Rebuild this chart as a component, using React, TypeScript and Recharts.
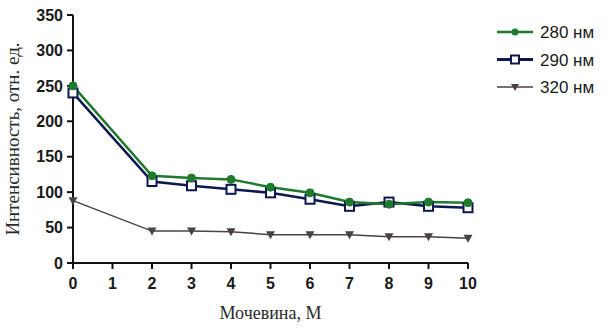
import React from "react";
import { LineChart, Line, XAxis, YAxis } from "recharts";

// Urea concentration, M (no measurement at 1 M)
const urea = [0, 2, 3, 4, 5, 6, 7, 8, 9, 10];
const nm280 = [250, 123, 120, 118, 107, 99, 86, 83, 86, 85];
const nm290 = [240, 115, 109, 104, 99, 90, 80, 86, 80, 78];
const nm320 = [88, 45, 45, 44, 40, 40, 40, 37, 37, 35];
const xTicks = [0, 1, 2, 3, 4, 5, 6, 7, 8, 9, 10];
const yTicks = [0, 50, 100, 150, 200, 250, 300, 350];

const data = urea.map((u, i) => ({
  urea: u,
  a: nm280[i],
  b: nm290[i],
  c: nm320[i],
}));

const tickStyle = {
  fontFamily: "Liberation Sans, Arial, sans-serif",
  fontWeight: 700,
  fontSize: 16,
  fill: "#1a1a1a",
};

const GREEN = "#1f7a2e";
const NAVY = "#0d1850";
const GREY = "#4a4242";

const Circle = (p: any) => (
  <circle key={p.key} cx={p.cx} cy={p.cy} r={4} fill={GREEN} stroke={GREEN} />
);
const Square = (p: any) => (
  <rect key={p.key} x={p.cx - 4.5} y={p.cy - 4.5} width={9} height={9} fill="#fff" stroke={NAVY} strokeWidth={2} />
);
const Tri = (p: any) => (
  <path key={p.key} d={`M${p.cx - 4.5},${p.cy - 3.5} L${p.cx + 4.5},${p.cy - 3.5} L${p.cx},${p.cy + 4.5} Z`} fill={GREY} />
);

const legendItems = [
  { name: "280 нм", color: GREEN, width: 2.5, marker: "circle" },
  { name: "290 нм", color: NAVY, width: 3, marker: "square" },
  { name: "320 нм", color: GREY, width: 1.5, marker: "tri" },
];

const LegendBox = () => (
  <svg width={120} height={90}>
    {legendItems.map((it, i) => {
      const y = 18 + i * 27.5;
      return (
        <g key={it.name}>
          <line x1={17} x2={53} y1={y} y2={y} stroke={it.color} strokeWidth={it.width} />
          {it.marker === "circle" && <circle cx={35} cy={y} r={3.5} fill={it.color} />}
          {it.marker === "square" && (
            <rect x={31} y={y - 4} width={8} height={8} fill="#fff" stroke={it.color} strokeWidth={2} />
          )}
          {it.marker === "tri" && (
            <path d={`M${31},${y - 3} L${39},${y - 3} L${35},${y + 4} Z`} fill={it.color} />
          )}
          <text
            x={60}
            y={y + 6}
            fontFamily="Liberation Sans, Arial, sans-serif"
            fontSize={17}
            fill="#1a1a1a"
          >
            {it.name}
          </text>
        </g>
      );
    })}
  </svg>
);

export default function App() {
  return (
    <div style={{ position: "absolute", left: 0, top: 0, width: 613, height: 329, background: "#fff" }}>
      <LineChart
        width={613}
        height={329}
        data={data}
        margin={{ top: 15, right: 145, bottom: 0, left: 0 }}
      >
        <XAxis
          dataKey="urea"
          type="number"
          domain={[0, 10]}
          ticks={xTicks}
          interval={0}
          tick={tickStyle}
          tickSize={6}
          tickMargin={9}
          height={66}
          axisLine={{ stroke: "#111", strokeWidth: 2 }}
          tickLine={{ stroke: "#111", strokeWidth: 2 }}
          label={{
            value: "Мочевина, М",
            position: "insideBottom",
            offset: 10,
            style: { fontFamily: "Liberation Serif, Times New Roman, serif", fontSize: 18, fill: "#2a2a2a" },
          }}
        />
        <YAxis
          type="number"
          domain={[0, 350]}
          ticks={yTicks}
          interval={0}
          width={73}
          tick={tickStyle}
          tickSize={6}
          tickMargin={4}
          axisLine={{ stroke: "#111", strokeWidth: 2 }}
          tickLine={{ stroke: "#111", strokeWidth: 2 }}
          label={{
            value: "Интенсивность, отн. ед.",
            angle: -90,
            position: "insideLeft",
            offset: 0,
            dx: 12,
            style: {
              textAnchor: "middle",
              fontFamily: "Liberation Serif, Times New Roman, serif",
              fontSize: 19,
              fill: "#2a2a2a",
            },
          }}
        />
        <Line
          dataKey="c"
          name="320 нм"
          stroke={GREY}
          strokeWidth={1.5}
          dot={Tri}
          isAnimationActive={false}
        />
        <Line
          dataKey="b"
          name="290 нм"
          stroke={NAVY}
          strokeWidth={2.5}
          dot={Square}
          isAnimationActive={false}
        />
        <Line
          dataKey="a"
          name="280 нм"
          stroke={GREEN}
          strokeWidth={2.5}
          dot={Circle}
          isAnimationActive={false}
        />
      </LineChart>
      <div style={{ position: "absolute", left: 480, top: 14 }}>
        <LegendBox />
      </div>
    </div>
  );
}
